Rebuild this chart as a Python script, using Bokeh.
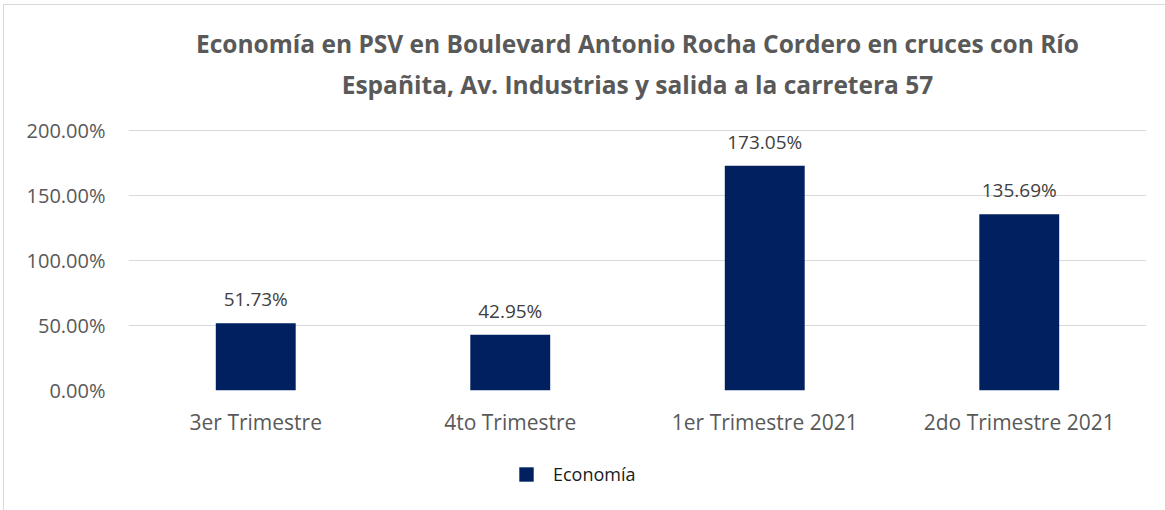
from bokeh.plotting import figure
from bokeh.layouts import column
from bokeh.models import (ColumnDataSource, Title, Legend, LegendItem, PrintfTickFormatter,
                          FixedTicker, Range1d)
from bokeh.core.properties import value
from bokeh.embed import file_html
from bokeh.resources import INLINE

categories = ["3er Trimestre", "4to Trimestre", "1er Trimestre 2021", "2do Trimestre 2021"]
values = [51.73, 42.95, 173.05, 135.69]
series_name = "Economía"
y_ticks = [0, 50, 100, 150, 200]
title_lines = ["Economía en PSV en Boulevard Antonio Rocha Cordero en cruces con Río",
               "Españita, Av. Industrias y salida a la carretera 57"]

BAR_COLOR = "#002060"
FONT = "Open Sans"

labels = [f"{v:.2f}%" for v in values]
src = ColumnDataSource(dict(cat=categories, val=values, lab=labels))

W = 1161
p = figure(x_range=categories, y_range=Range1d(0, 201), width=W, height=435,
           output_backend="svg", toolbar_location=None,
           min_border_left=124, min_border_right=19, min_border_top=124, min_border_bottom=50)
p.outline_line_color = None
p.background_fill_color = "white"
p.border_fill_color = "white"

r = p.vbar(x="cat", top="val", width=0.314, source=src, fill_color=BAR_COLOR, line_color=None)

p.text(x="cat", y="val", text="lab", source=src, text_align="center", text_baseline="alphabetic",
       y_offset=-24, text_font=value(FONT), text_font_size="19px", text_color="#404040")

p.xgrid.grid_line_color = None
p.ygrid.grid_line_color = "#d9d9d9"
p.ygrid.grid_line_width = 1
p.yaxis.ticker = FixedTicker(ticks=y_ticks)
p.yaxis.formatter = PrintfTickFormatter(format="%.2f%%")
for ax in (p.xaxis[0], p.yaxis[0]):
    ax.axis_line_color = None
    ax.major_tick_line_color = None
    ax.minor_tick_line_color = None
    ax.major_label_text_font = FONT
    ax.major_label_text_color = "#595959"
p.yaxis.major_label_text_font_size = "20px"
p.xaxis.major_label_text_font_size = "21px"
p.yaxis.major_label_standoff = 17
p.xaxis.major_label_standoff = 11

# spacer nearest the frame, then the two title lines (added from the frame outward)
p.add_layout(Title(text=" ", text_font=FONT, text_font_size="10px", standoff=10), "above")
for t in reversed(title_lines):
    p.add_layout(Title(text=t, align="center", text_font=FONT, text_font_size="24.5px",
                       text_font_style="bold", text_color="#595959", standoff=6), "above")

# legend strip (frames of the column are aligned, so x is measured from the plot area's left)
pl = figure(width=W, height=70, x_range=Range1d(0, 1), y_range=Range1d(0, 1),
            output_backend="svg", toolbar_location=None, x_axis_location=None,
            y_axis_location=None, min_border=0)
pl.outline_line_color = None
pl.grid.visible = False
pl.background_fill_color = "white"
pl.border_fill_color = "white"
rl = pl.vbar(x=[0], top=[0], bottom=[0], width=0, fill_color=BAR_COLOR, line_color=None)
leg = Legend(items=[LegendItem(label=series_name, renderers=[rl])], location=(389, 24),
             orientation="horizontal", padding=0, margin=0, border_line_color=None,
             background_fill_alpha=0, glyph_width=18, glyph_height=18, label_standoff=18,
             label_text_font=FONT, label_text_font_size="18px", label_text_color="#1a1a1a")
pl.add_layout(leg, "center")

layout = column(p, pl, spacing=0,
                styles={"border-top": "1px solid #d9d9d9", "border-left": "1px solid #d9d9d9",
                        "margin-left": "3px", "margin-top": "4px"})

open("out.html", "w").write(file_html(layout, INLINE))
